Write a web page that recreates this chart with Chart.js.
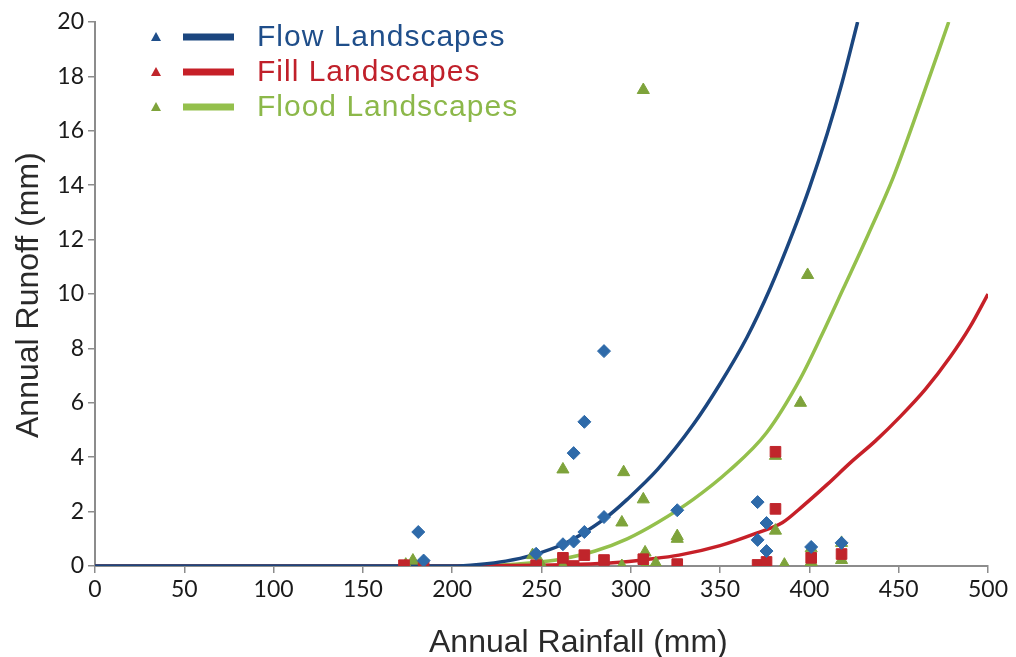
<!DOCTYPE html>
<html>
<head>
<meta charset="utf-8">
<script src="https://cdn.jsdelivr.net/npm/chart.js@4.4.1/dist/chart.umd.min.js"></script>
<style>
  html, body { margin: 0; padding: 0; background: #fff; }
  #chart { display: block; }
</style>
</head>
<body>
<canvas id="chart" width="1016" height="657"></canvas>
<script>
const flowRain    = [181, 184, 247, 262, 268, 274, 285, 268, 274, 285, 326, 371, 376, 371, 376, 401, 418];
const flowRunoff  = [1.25, 0.2, 0.45, 0.8, 0.9, 1.25, 1.8, 4.15, 5.3, 7.9, 2.05, 2.35, 1.58, 0.96, 0.55, 0.7, 0.85];

const fillRain    = [173, 184, 247, 262, 268, 274, 285, 307, 326, 381, 381, 371, 376, 401, 418];
const fillRunoff  = [0.03, 0.03, 0.03, 0.3, 0.0, 0.4, 0.22, 0.25, 0.07, 4.2, 2.1, 0.04, 0.15, 0.3, 0.44];

const floodRain   = [174, 178, 245, 249, 262, 262, 296, 295, 295, 307, 307, 308, 308, 314, 326, 326, 381, 381, 386, 395, 399, 401, 401, 418, 418];
const floodRunoff = [0.05, 0.2, 0.4, 0.15, 3.55, 0.0, 3.45, 1.6, 0.0, 17.5, 2.45, 0.5, 0.0, 0.1, 1.1, 1.0, 4.05, 1.3, 0.05, 6.0, 10.7, 0.65, 0.15, 0.85, 0.22];

// ---- fitted curves ----
const flowCurveRain    = [0, 200, 215, 230, 245, 262, 272, 285, 298, 315, 335, 350, 365, 378, 391, 400, 410, 418, 427];
const flowCurveRunoff  = [0, 0, 0.06, 0.18, 0.4, 0.8, 1.15, 1.72, 2.45, 3.55, 5.2, 6.7, 8.4, 10.2, 12.3, 13.9, 15.9, 17.7, 20];

const fillCurveRain    = [0, 200, 250, 270, 290, 310, 327, 350, 370, 385, 395, 410, 423, 437, 451, 465, 479, 490, 500];
const fillCurveRunoff  = [0, 0, 0.03, 0.06, 0.12, 0.25, 0.4, 0.75, 1.2, 1.6, 2.13, 3.0, 3.8, 4.6, 5.5, 6.5, 7.7, 8.8, 10.0];

const floodCurveRain   = [0, 200, 225, 245, 260, 280, 298, 315, 335, 355, 376, 395, 407, 419, 433, 447, 462, 478];
const floodCurveRunoff = [0, 0, 0.03, 0.12, 0.24, 0.55, 1.0, 1.6, 2.45, 3.5, 4.9, 6.9, 8.5, 10.2, 12.2, 14.3, 17.0, 20];

const xTickValues = [0, 50, 100, 150, 200, 250, 300, 350, 400, 450, 500];
const yTickValues = [0, 2, 4, 6, 8, 10, 12, 14, 16, 18, 20];

const xTitle = 'Annual Rainfall (mm)';
const yTitle = 'Annual Runoff (mm)';

const seriesNames  = ['Flow Landscapes', 'Fill Landscapes', 'Flood Landscapes'];
const lineColors   = ['#1b467f', '#c62028', '#94c04c'];
const markerColors = ['#2e6aa9', '#c0252b', '#7ea33b'];
const legendMarks  = ['#1f4e8a', '#c0252b', '#7ea33b'];
const textColors   = ['#1f4e8a', '#c0202a', '#8cb84a'];

function pairs(xs, ys) {
    return xs.map((x, i) => ({ x: x, y: ys[i] }));
}

function pointSet(label, xs, ys, i, style, radius) {
    return {
        label: label,
        data: pairs(xs, ys),
        pointStyle: style,
        pointRadius: radius,
        backgroundColor: markerColors[i],
        borderColor: markerColors[i],
        borderWidth: 1,
        order: 0
    };
}

function curveSet(label, xs, ys, i) {
    return {
        label: label,
        data: pairs(xs, ys),
        showLine: true,
        pointRadius: 0,
        borderColor: lineColors[i],
        borderWidth: 3.5,
        cubicInterpolationMode: 'monotone',
        order: 1
    };
}

// legend: little triangle + thick line + coloured text, plus the two axis titles
const sideLegend = {
    id: 'sideLegend',
    afterDraw(chart) {
        const ctx = chart.ctx;
        ctx.save();
        seriesNames.forEach((name, i) => {
            const base = 46 + i * 35;
            const mid = base - 9;
            ctx.fillStyle = legendMarks[i];
            ctx.beginPath();
            ctx.moveTo(156, mid - 5);
            ctx.lineTo(161, mid + 4);
            ctx.lineTo(151, mid + 4);
            ctx.closePath();
            ctx.fill();

            ctx.strokeStyle = lineColors[i];
            ctx.lineWidth = 7;
            ctx.beginPath();
            ctx.moveTo(183, mid);
            ctx.lineTo(234, mid);
            ctx.stroke();

            ctx.fillStyle = textColors[i];
            ctx.font = '30px "Liberation Sans"';
            ctx.letterSpacing = '1px';
            ctx.textBaseline = 'alphabetic';
            ctx.textAlign = 'left';
            ctx.fillText(name, 257, base);
        });

        // axis titles (sit a bit off-centre in the original)
        ctx.letterSpacing = '0px';
        ctx.fillStyle = '#2a2a2a';
        ctx.font = '32px "Liberation Sans"';
        ctx.textAlign = 'left';
        ctx.textBaseline = 'alphabetic';
        ctx.fillText(xTitle, 429, 652);

        ctx.translate(38, 438);
        ctx.rotate(-Math.PI / 2);
        ctx.fillText(yTitle, 0, 0);
        ctx.restore();
    }
};

new Chart(document.getElementById('chart'), {
    type: 'scatter',
    data: {
        datasets: [
            pointSet(seriesNames[0], flowRain, flowRunoff, 0, 'rectRot', 6.5),
            pointSet(seriesNames[1], fillRain, fillRunoff, 1, 'rect', 7.5),
            pointSet(seriesNames[2], floodRain, floodRunoff, 2, 'triangle', 7),
            curveSet(seriesNames[0], flowCurveRain, flowCurveRunoff, 0),
            curveSet(seriesNames[1], fillCurveRain, fillCurveRunoff, 1),
            curveSet(seriesNames[2], floodCurveRain, floodCurveRunoff, 2)
        ]
    },
    options: {
        responsive: false,
        animation: false,
        layout: { padding: { left: 0, right: 28, top: 22, bottom: 0 } },
        plugins: {
            legend: { display: false },
            tooltip: { enabled: false }
        },
        scales: {
            x: {
                type: 'linear',
                min: 0,
                max: 500,
                afterBuildTicks(scale) { scale.ticks = xTickValues.map(v => ({ value: v })); },
                ticks: { color: '#1a1a1a', font: { family: 'Lato', size: 23 }, padding: 3, maxRotation: 0 },
                grid: { drawOnChartArea: false, tickLength: 7, color: '#8c8c8c', lineWidth: 1.5 },
                border: { color: '#8c8c8c', width: 2 },
                title: { display: false },
                afterFit(scale) { scale.height = 91; }
            },
            y: {
                type: 'linear',
                min: 0,
                max: 20,
                afterBuildTicks(scale) { scale.ticks = yTickValues.map(v => ({ value: v })); },
                ticks: { color: '#1a1a1a', font: { family: 'Lato', size: 23 }, padding: 4 },
                grid: { drawOnChartArea: false, tickLength: 7, color: '#8c8c8c', lineWidth: 1.5 },
                border: { color: '#8c8c8c', width: 2 },
                title: { display: false },
                afterFit(scale) { scale.width = 95; }
            }
        }
    },
    plugins: [sideLegend]
});
</script>
</body>
</html>
